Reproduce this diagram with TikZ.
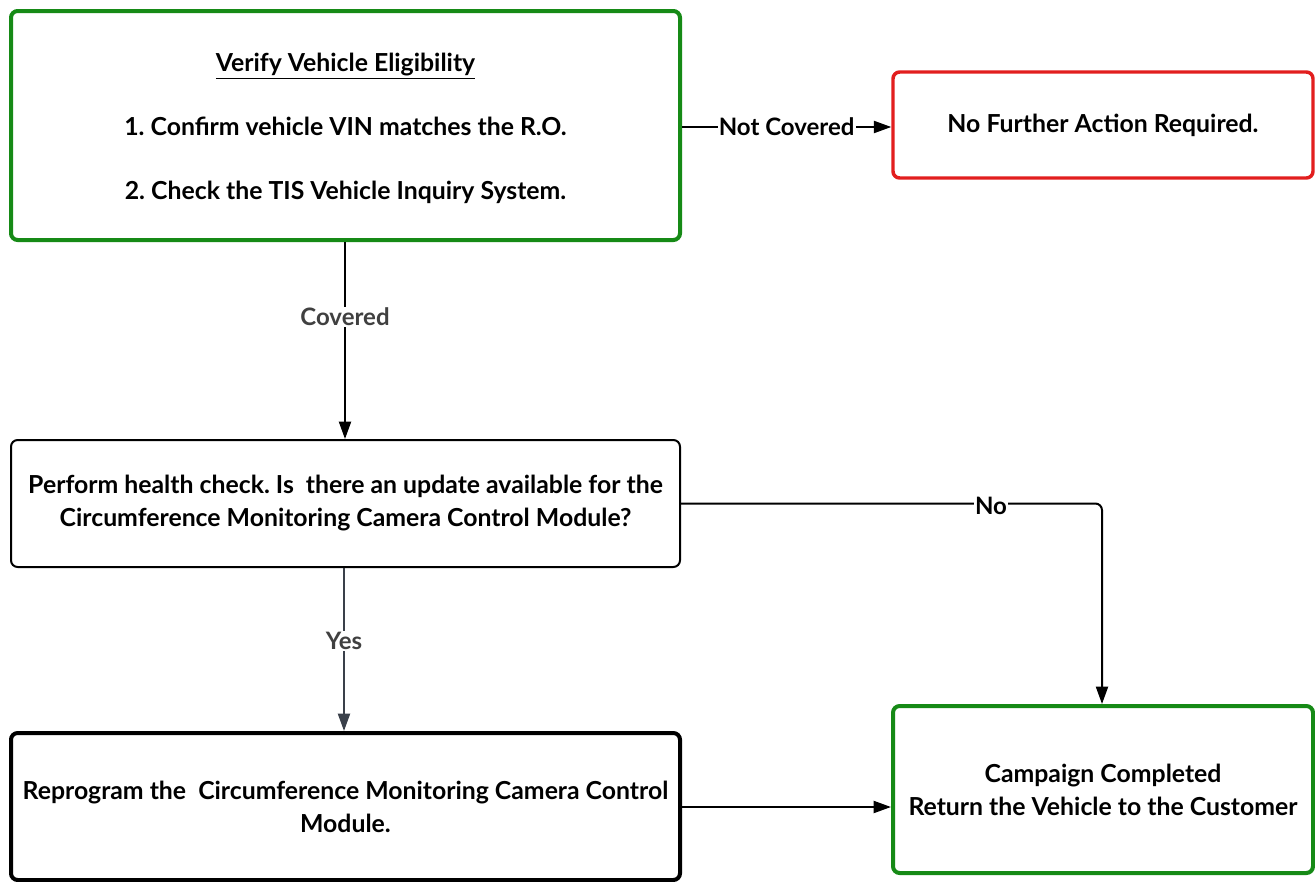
\documentclass[tikz,border=0pt]{standalone}
\usepackage{fontspec}
\setmainfont{Lato}
\usetikzlibrary{arrows.meta,calc}
\definecolor{boxgreen}{RGB}{22,138,22}
\definecolor{boxred}{RGB}{226,30,30}
\definecolor{lblgray}{RGB}{64,64,64}
\definecolor{yesline}{RGB}{58,64,74}
\tikzset{
  box/.style={draw, rounded corners=5pt, align=center, font=\frenchspacing\bfseries\fontsize{18.6}{24.75}\selectfont, inner sep=0pt},
  greenbox/.style={box, draw=boxgreen, line width=3pt},
  redbox/.style={box, draw=boxred, line width=2.6pt},
  thinbox/.style={box, draw=black, line width=1.5pt},
  thickbox/.style={box, draw=black, line width=3pt},
  conn/.style={draw=black, line width=1.5pt, -{Triangle[length=13pt,width=9pt]}},
  lbl/.style={fill=white, inner sep=1pt, font=\bfseries\fontsize{18}{20}\selectfont}
}
\begin{document}
\frenchspacing
\begin{tikzpicture}[x=0.75pt,y=-0.75pt]
\useasboundingbox (0,0) rectangle (1315,882);
\fill[white] (0,0) rectangle (1315,882);
\node[greenbox, minimum width=501.75pt, minimum height=171.75pt] (verify) at (345.5,125.5)
  {\rule{0pt}{18pt}\underline{Verify Vehicle Eligibility}\\[23pt]1. Confirm vehicle VIN matches the R.O.\\[23pt]2. Check the TIS Vehicle Inquiry System.};
\node[redbox, minimum width=315pt, minimum height=79.5pt] (nofurther) at (1103,125)
  {No Further Action Required.};
\node[thinbox, minimum width=501.75pt, minimum height=95.25pt] (check) at (345.5,503.5)
  {Perform health check. Is\ \ there an update available for the\\Circumference Monitoring Camera Control Module?};
\node[thickbox, minimum width=501.75pt, minimum height=110.25pt] (reprog) at (345.5,806.5)
  {Reprogram the\ \ Circumference Monitoring Camera Control\\Module.};
\node[greenbox, minimum width=315pt, minimum height=125.25pt] (done) at (1103,789.5)
  {Campaign Completed\\Return the Vehicle to the Customer};

\draw[conn] (verify.south -| 345,0) -- node[lbl, text=lblgray, pos=0.38] (lcov) {Covered} (check.north -| 345,0);
\draw[conn] (verify.east |- 0,127) -- node[lbl, pos=0.5] (lnc) {Not Covered} (nofurther.west |- 0,127);
\draw[conn, rounded corners=5pt] (check.east) -| (done.north -| 1102,0);
\node[lbl] (lno) at (991,506) {No};
\draw[conn, draw=yesline, -{Triangle[length=13pt,width=9pt]}] (check.south -| 344,0) -- node[lbl, text=lblgray, pos=0.446] (lyes) {Yes} (reprog.north -| 344,0);
\draw[conn] (reprog.east |- 0,807) -- (done.west |- 0,807);
\end{tikzpicture}
\end{document}
